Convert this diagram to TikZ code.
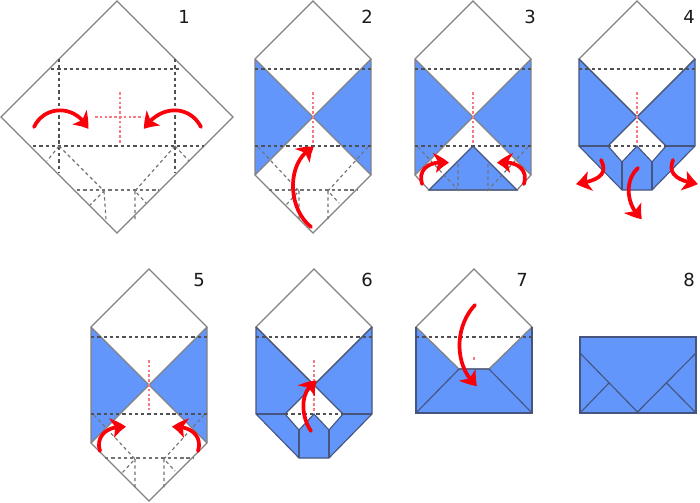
\documentclass[tikz,border=0pt]{standalone}
\usepackage{fontspec}
\setmainfont{DejaVu Sans}
\usetikzlibrary{arrows.meta,bending}
\definecolor{flapblue}{RGB}{98,150,250}
\definecolor{sheetgray}{RGB}{130,130,130}
\definecolor{flapline}{RGB}{70,85,125}
\definecolor{creasegray}{RGB}{80,80,85}
\definecolor{foldred}{RGB}{250,0,10}
\definecolor{hintred}{RGB}{250,120,130}
\tikzset{
  sheet/.style={draw=sheetgray, line width=0.95pt, line join=miter},
  flap/.style={fill=flapblue, draw=flapline, line width=0.85pt, line join=miter},
  crease/.style={draw=creasegray, line width=1pt, dash pattern=on 2.5pt off 2.2pt},
  softcrease/.style={crease, draw=creasegray!80, line width=0.85pt},
  hint/.style={draw=hintred, line width=1pt, dash pattern=on 2pt off 1.6pt},
  foldarrow/.style={draw=foldred, line width=2.8pt, line cap=round,
    -{Stealth[length=11pt, width=15pt, inset=3pt, bend]}},
  steplabel/.style={font=\fontsize{13.5}{15}\selectfont, text=black!90, inner sep=0pt},
}
% full sheet, relative to its centre
\newcommand{\sheetoutline}{
  \draw[sheet] (0,-116) -- (58,-58) -- (58,58) -- (0,116) -- (-58,58) -- (-58,-58) -- cycle;
}
\newcommand{\sidetriangles}{
  \fill[flapblue] (-58,-58) -- (0,0) -- (-58,58) -- cycle;
  \fill[flapblue] (58,-58) -- (0,0) -- (58,58) -- cycle;
  \draw[sheet] (-58,-58) -- (58,58) (58,-58) -- (-58,58);
}
\newcommand{\lowcreases}{
  \draw[softcrease] (-55,30) -- (-14,74) -- (-27,88) (-14,74) -- (-14,102);
  \draw[softcrease] (55,30) -- (15,74) -- (26,86) (15,74) -- (15,102);
  \draw[softcrease] (-44,73) -- (44,73);
}
% folded lower part, same for steps 4 and 6
\newcommand{\pocket}{
  \fill[flapblue] (-58,-58) -- (0,0) -- (58,-58) -- (58,29) -- (15,73) -- (-15,73) -- (-58,29) -- cycle;
  \fill[white] (0,0) -- (29,29) -- (15,45) -- (0,29) -- (-15,45) -- (-29,29) -- cycle;
  \draw[sheet] (0,-116) -- (58,-58) -- (0,0) -- (-58,-58) -- cycle;
  \draw[flap, fill=none] (-58,-58) -- (-58,29) -- (-15,73) -- (15,73) -- (58,29) -- (58,-58);
  \draw[flap, fill=none] (-58,-58) -- (0,0) -- (58,-58);
  \draw[flap, fill=none] (0,0) -- (29,29) -- (15,45) -- (0,29) -- (-15,45) -- (-29,29) -- cycle;
  \draw[flap, fill=none] (-58,29) -- (-29,29) (58,29) -- (29,29);
  \draw[flap, fill=none] (-15,45) -- (-15,73) (15,45) -- (15,73);
  \draw[crease] (-58,-48) -- (58,-48);
  \draw[crease] (-29,29) -- (29,29);
}
\begin{document}
\begin{tikzpicture}[x=0.75pt, y=-0.75pt]
  \useasboundingbox (0,0) rectangle (700,503);

  % step 1
  \begin{scope}[shift={(117,117)}]
    \draw[sheet] (0,-116) -- (116,0) -- (0,116) -- (-116,0) -- cycle;
    \draw[crease] (-66,-48) -- (62,-48) (-58,-58) -- (-58,56) (58,-58) -- (58,56);
    \draw[crease] (-84,29) -- (87,29);
    \draw[softcrease] (-58,29) -- (-70,44) (58,29) -- (72,44);
    \draw[softcrease] (-58,29) -- (-13,74) -- (-27,88) (-13,74) -- (-11,102);
    \draw[softcrease] (58,29) -- (18,74) -- (29,86) (18,74) -- (18,102);
    \draw[softcrease] (-40,73) -- (42,73);
    \draw[hint] (-22,0) -- (26,0) (3,-25) -- (3,27);
    \draw[foldarrow] (-83,10) .. controls (-72,-13) and (-40,-12) .. (-29,12);
    \draw[foldarrow] (84,10) .. controls (72,-13) and (42,-12) .. (27,12);
  \end{scope}
  \node[steplabel] (one) at (184,17) {1};

  % step 2
  \begin{scope}[shift={(313,117)}]
    \sidetriangles
    \sheetoutline
    \draw[crease] (-58,-48) -- (58,-48) (-58,29) -- (58,29);
    \lowcreases
    \draw[hint] (0,-25) -- (0,27);
    \draw[foldarrow] (-2,110) .. controls (-27,90) and (-26,42) .. (1,30);
  \end{scope}
  \node[steplabel] (two) at (367,17) {2};

  % step 3
  \begin{scope}[shift={(473,117)}]
    \sidetriangles
    \fill[flapblue] (0,29) -- (44,73) -- (-44,73) -- cycle;
    \draw[sheet] (0,-116) -- (58,-58) -- (58,58) -- (44,73) -- (-44,73) -- (-58,58) -- (-58,-58) -- cycle;
    \draw[flap, fill=none] (-44,73) -- (0,29) -- (44,73) -- cycle;
    \draw[crease] (-58,-48) -- (58,-48) (-58,29) -- (58,29);
    \draw[softcrease] (-55,30) -- (-15,73) -- (-15,45) (55,30) -- (15,73) -- (15,45);
    \draw[hint] (0,-25) -- (0,27);
    \draw[foldarrow] (-51,67) .. controls (-56,50) and (-40,43) .. (-24,46);
    \draw[foldarrow] (51,67) .. controls (56,50) and (40,43) .. (24,46);
  \end{scope}
  \node[steplabel] (three) at (530,17) {3};

  % step 4
  \begin{scope}[shift={(637,117)}]
    \pocket
    \draw[hint] (0,-25) -- (0,27);
    \draw[foldarrow] (-36,43) .. controls (-28,58) and (-40,64) .. (-61,67);
    \draw[foldarrow] (36,43) .. controls (30,58) and (42,64) .. (61,67);
    \draw[foldarrow] (1,51) .. controls (-12,62) and (-12,88) .. (5,102);
  \end{scope}
  \node[steplabel] (four) at (689,17) {4};

  % step 5
  \begin{scope}[shift={(149,385)}]
    \sidetriangles
    \sheetoutline
    \draw[crease] (-58,-48) -- (58,-48) (-58,29) -- (58,29);
    \lowcreases
    \draw[hint] (0,-25) -- (0,25);
    \draw[foldarrow] (-49,66) .. controls (-54,50) and (-40,40) .. (-23,42);
    \draw[foldarrow] (49,66) .. controls (54,50) and (40,40) .. (23,42);
  \end{scope}
  \node[steplabel] (five) at (199,280) {5};

  % step 6
  \begin{scope}[shift={(314,385)}]
    \pocket
    \draw[hint] (0,-25) -- (0,27);
    \draw[foldarrow] (-3,46) .. controls (-14,30) and (-14,4) .. (3,-4);
  \end{scope}
  \node[steplabel] (six) at (367,280) {6};

  % step 7
  \begin{scope}[shift={(474,385)}]
    \fill[flapblue] (-58,-58) -- (-15,-16) -- (15,-16) -- (58,-58) -- (58,28) -- (-58,28) -- cycle;
    \draw[sheet] (-58,-58) -- (0,-116) -- (58,-58) -- (15,-16) -- (-15,-16) -- cycle;
    \draw[flap, fill=none] (-58,-58) -- (-58,28) -- (58,28) -- (58,-58);
    \draw[flap, fill=none] (-58,28) -- (-15,-16) -- (15,-16) -- (58,28);
    \draw[crease] (-58,-48) -- (58,-48);
    \draw[hint] (0,-28) -- (0,-24);
    \draw[foldarrow] (1,-80) .. controls (-20,-58) and (-20,-18) .. (3,1);
  \end{scope}
  \node[steplabel] (seven) at (522,280) {7};

  % step 8
  \draw[flap] (580,337) rectangle (696,413);
  \draw[flap, fill=none] (580,353) -- (637.5,412) -- (696,353);
  \draw[flap, fill=none] (580,413) -- (609,383) (696,413) -- (666.5,383);
  \node[steplabel] (eight) at (689,280) {8};
\end{tikzpicture}
\end{document}
